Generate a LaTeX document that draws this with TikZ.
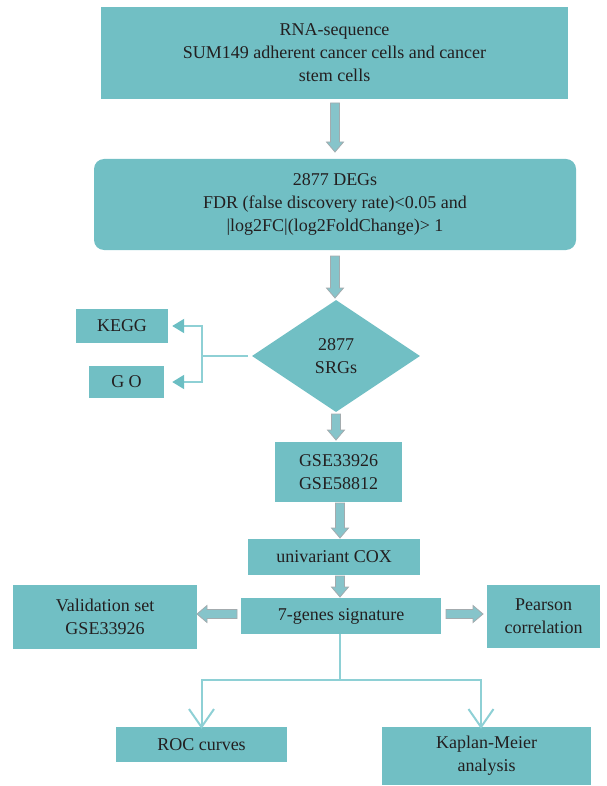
\documentclass[tikz,border=0pt]{standalone}
\usepackage{fontspec}
\setmainfont{Liberation Serif}
\usetikzlibrary{arrows.meta,shapes.geometric,calc}
\definecolor{boxc}{HTML}{71BFC4}
\definecolor{txtc}{HTML}{231F20}
\definecolor{linec}{HTML}{8ED0D5}
\definecolor{tipc}{HTML}{6BBEC3}
\definecolor{blkfill}{HTML}{86C4CA}
\definecolor{blkdraw}{HTML}{A3ABAE}
\tikzset{
  box/.style={fill=boxc, draw=none, text=txtc, align=center, inner sep=0pt,
    font=\fontsize{18}{23}\selectfont},
  blk/.style={fill=blkfill, draw=blkdraw, line width=0.8pt, line join=miter},
  thin/.style={draw=linec, line width=2pt},
  tipfill/.style={-{Triangle[length=12pt,width=14pt,color=tipc]}},
  tipbarb/.style={-{Straight Barb[length=18pt,width=25pt,line width=2pt]}},
}
% vertical block arrow from coordinate #1 (top) to #2 (tip)
\newcommand{\vblk}[2]{%
  \draw[blk] let \p1=(#1), \p2=(#2) in
    (\x1-4.5pt,\y1) -- (\x1-4.5pt,\y2+10pt) -- (\x1-8.5pt,\y2+10pt) -- (\x1,\y2)
    -- (\x1+8.5pt,\y2+10pt) -- (\x1+4.5pt,\y2+10pt) -- (\x1+4.5pt,\y1) -- cycle;}
% horizontal block arrow from coordinate #1 (start) to #2 (tip)
\newcommand{\hblk}[2]{%
  \draw[blk] let \p1=(#1), \p2=(#2), \n1={sign(\x2-\x1)} in
    (\x1,\y1-4.5pt) -- (\x2-\n1*10pt,\y1-4.5pt) -- (\x2-\n1*10pt,\y1-8.5pt) -- (\x2,\y1)
    -- (\x2-\n1*10pt,\y1+8.5pt) -- (\x2-\n1*10pt,\y1+4.5pt) -- (\x1,\y1+4.5pt) -- cycle;}
\begin{document}
\begin{tikzpicture}[x=1pt,y=-1pt]
\useasboundingbox (0,0) rectangle (606,786);

\node[box, minimum width=467pt, minimum height=92pt] (rna) at (334.5,53)
  {RNA-sequence\\SUM149 adherent cancer cells and cancer\\stem cells};
\node[box, rounded corners=10pt, minimum width=482pt, minimum height=91pt] (deg) at (335,204.5)
  {2877 DEGs\\FDR (false discovery rate)<0.05 and\\|log2FC|(log2FoldChange)> 1};
\node[box, diamond, minimum width=168pt, minimum height=112pt] (srg) at (336,356)
  {2877\\SRGs};
\node[box, minimum width=92pt, minimum height=34pt] (kegg) at (122,326) {KEGG};
\node[box, minimum width=75pt, minimum height=32pt] (go) at (126.5,382) {G O};
\node[box, minimum width=127pt, minimum height=60pt] (gse) at (338.5,472)
  {GSE33926\\GSE58812};
\node[box, minimum width=172pt, minimum height=36pt] (cox) at (334,557) {univariant COX};
\node[box, minimum width=200pt, minimum height=36pt] (sig) at (341,616) {7-genes signature};
\node[box, minimum width=184pt, minimum height=64pt] (val) at (105,617)
  {Validation set\\GSE33926};
\node[box, minimum width=113pt, minimum height=63pt] (pear) at (543.5,616.5)
  {Pearson\\correlation};
\node[box, minimum width=171pt, minimum height=35pt] (roc) at (201.5,744.5) {ROC curves};
\node[box, minimum width=209pt, minimum height=58pt] (km) at (486.5,756)
  {Kaplan-Meier\\analysis};

% block arrow end points
\coordinate (a1s) at (335,103); \coordinate (a1e) at (335,152);
\coordinate (a2s) at (335,256); \coordinate (a2e) at (335,298);
\coordinate (a3s) at (336,414); \coordinate (a3e) at (336,440);
\coordinate (a4s) at (340,503); \coordinate (a4e) at (340,538);
\coordinate (a5s) at (340,576); \coordinate (a5e) at (340,597);
\coordinate (a6s) at (237,614); \coordinate (a6e) at (197,614);
\coordinate (a7s) at (446,614); \coordinate (a7e) at (483,614);
\vblk{a1s}{a1e}
\vblk{a2s}{a2e}
\vblk{a3s}{a3e}
\vblk{a4s}{a4e}
\vblk{a5s}{a5e}
\hblk{a6s}{a6e}
\hblk{a7s}{a7e}

% branch to KEGG / GO
\coordinate (brj) at (202,356);
\draw[thin] ([xshift=-4pt]srg.west) -- (brj);
\draw[thin, tipfill] (brj) |- ([xshift=4pt]kegg.east);
\draw[thin, tipfill] (brj) |- ([xshift=8pt]go.east);

% bottom branch
\coordinate (bj) at (340,680);
\draw[thin] (sig.south -| bj) -- (bj);
\draw[thin, tipbarb] (bj) -| ([yshift=-2pt]roc.north);
\draw[thin, tipbarb] (bj) -| ([yshift=-2pt]km.north -| 481,0);
\end{tikzpicture}
\end{document}
